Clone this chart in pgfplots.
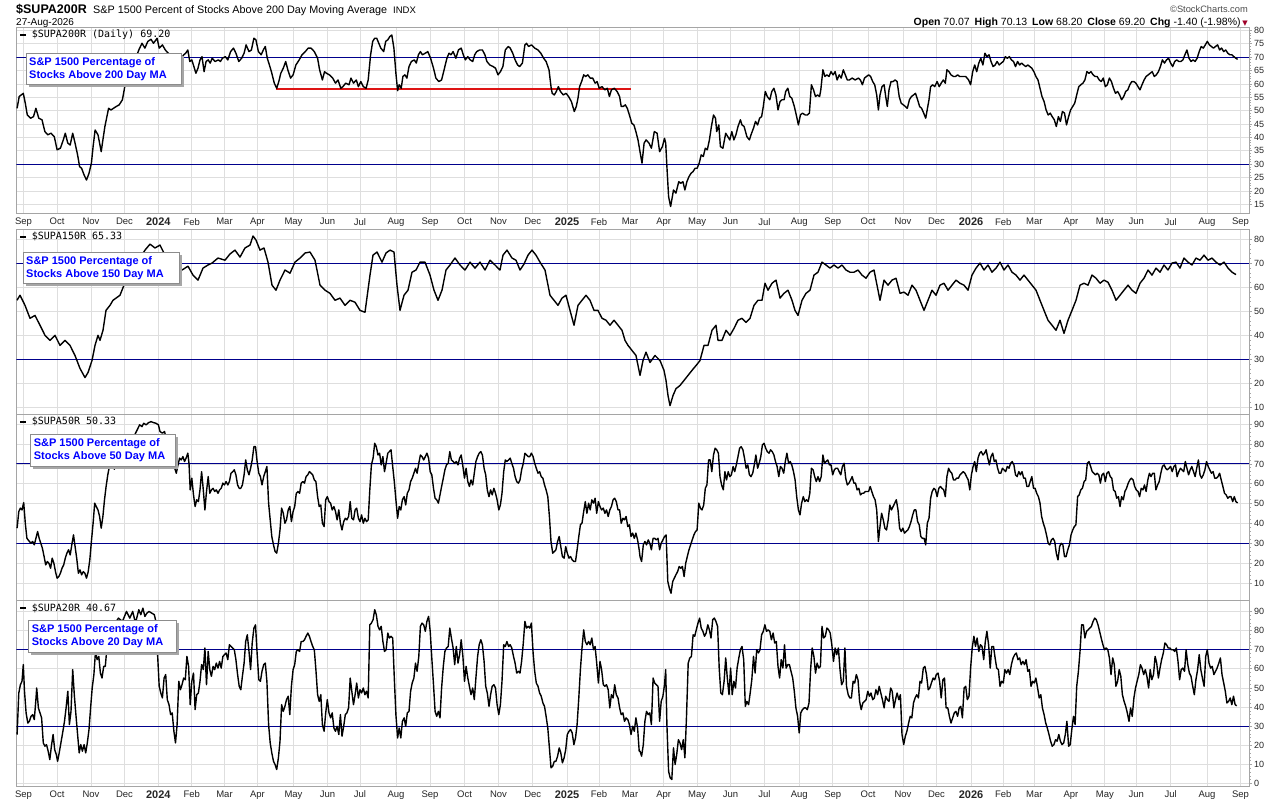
\documentclass[border=0pt]{standalone}
\usepackage{pgfplots}
\pgfplotsset{compat=1.18}
\usepackage{fontspec}
\setmainfont{Liberation Sans}
\newfontfamily\monofont{DejaVu Sans Mono}
\newfontfamily\dejavu{DejaVu Sans}
\definecolor{navyl}{RGB}{0,0,140}
\definecolor{sblue}{RGB}{0,0,255}
\definecolor{redl}{RGB}{222,20,20}
\definecolor{framec}{RGB}{165,165,165}
\definecolor{gridc}{RGB}{222,222,222}
\definecolor{chgred}{RGB}{160,0,40}
\pgfplotsset{
  stc/.style={
    scale only axis, width=1232.7pt, anchor=north west,
    xmin=16.3, xmax=1249,
    axis line style={draw=framec, line width=0.9pt},
    grid=major, major grid style={draw=gridc, line width=0.8pt},
    xtick={23.5,57,91,124.5,158.3,191.8,224.5,257.5,293.5,327.5,360,396,430,464.5,498.5,532.7,567,599,630,663.7,697.1,730.6,764.5,799.2,832.8,868,903,936.5,971,1003.3,1034.3,1071,1104.8,1136.3,1170.6,1207,1240.5},
    tick align=outside, ytick pos=right, xtick pos=bottom,
    x tick style={draw=none},
    y tick style={draw=framec, line width=0.8pt},
    major tick length=3pt, minor tick length=1.5pt,
    minor y tick num=4,
    yticklabel style={font=\fontsize{9}{10}\selectfont, text=black!85, inner sep=2pt},
    xticklabel style={font=\fontsize{9.5}{10}\selectfont, text=black!85, inner sep=1.5pt},
    /pgf/number format/assume math mode=true,
    clip=true,
  },
  nolabels/.style={xticklabels={}, xticklabel style={text opacity=0}},
  monthlabels/.style={xticklabels={Sep,Oct,Nov,Dec,{\bfseries\fontsize{11}{12}\selectfont 2024},Feb,Mar,Apr,May,Jun,Jul,Aug,Sep,Oct,Nov,Dec,{\bfseries\fontsize{11}{12}\selectfont 2025},Feb,Mar,Apr,May,Jun,Jul,Aug,Sep,Oct,Nov,Dec,{\bfseries\fontsize{11}{12}\selectfont 2026},Feb,Mar,Apr,May,Jun,Jul,Aug,Sep}},
  ser/.style={black, line width=1.4pt, line join=round, mark=none},
  refl/.style={navyl, line width=1pt, mark=none},
}
\begin{document}
\begin{tikzpicture}
\useasboundingbox (0,0) rectangle (1280pt,-800pt);
\fill[white] (0,0) rectangle (1280pt,-800pt);

% ---------------- Panel 1: 200 day ----------------
\begin{axis}[stc, monthlabels, at={(16.3pt,-27.5pt)}, height=186pt, ymin=11.6, ymax=81.1, ytick={15,20,...,80}]
\addplot[refl] coordinates {(16.3,70) (1249,70)};
\addplot[refl] coordinates {(16.3,30) (1249,30)};
\addplot[redl, line width=2.2pt] coordinates {(276,58.2) (630.6,58.2)};
\addplot[ser] coordinates {
(17.1,50.9) (19.2,55.3) (21.2,55.9) (23.3,56.5) (25.3,52.8) (27.3,48.4) (30.6,47.2) (33.5,47.8) (35.9,50.9) (38.8,47.2) (42.0,46.6) (44.9,42.2) (47.8,41.0) (51.0,41.6) (54.3,40.3) (57.1,35.4) (60.4,36.0) (63.3,39.1) (65.3,41.6) (67.8,37.9) (70.2,37.2) (72.7,41.6) (74.7,38.5) (77.6,33.5) (79.6,29.1) (81.6,28.5) (84.1,26.0) (86.5,24.1) (89.0,26.6) (91.4,30.4) (93.1,36.6) (95.1,42.8) (98.0,41.0) (99.6,37.9) (101.2,34.7) (102.9,39.1) (104.9,44.1) (106.9,47.8) (108.6,50.9) (111.0,50.3) (113.5,50.9) (116.3,51.6) (119.2,52.2) (122.4,54.1) (124.5,58.4) (125.7,61.5) (129.8,64.6) (134.7,68.4) (138.8,72.7) (142.0,75.2) (144.9,73.4) (147.8,75.9) (151.0,76.7) (153.5,75.2) (157.1,77.1) (159.2,73.4) (162.4,74.6) (165.3,72.7) (168.2,71.5) (173.5,70.2) (181.6,69.6)
(183.7,70.9) (185.7,71.5) (187.8,72.7) (189.8,68.4) (191.8,69.0) (193.9,66.5) (195.9,64.0) (198.0,65.9) (200.0,69.0) (202.0,70.2) (204.1,64.6) (206.1,68.4) (208.2,69.0) (210.2,67.8) (212.2,69.6) (215.1,68.4) (218.4,69.0) (220.4,68.4) (222.4,69.6) (225.3,70.2) (227.8,69.0) (230.6,72.1) (233.5,73.4) (235.9,71.5) (238.8,68.4) (241.6,69.6) (244.1,71.5) (246.1,74.6) (249.0,72.1) (251.4,72.7) (253.9,77.1) (255.9,76.5) (258.4,72.1) (261.2,70.9) (263.3,72.7) (265.3,74.0) (267.3,69.6) (269.4,67.1) (271.4,64.6) (274.3,60.3) (276.7,58.4) (278.8,60.9) (280.8,64.0) (283.3,65.9) (285.7,68.4) (287.8,65.3) (290.6,62.2) (293.1,63.4) (295.9,67.1) (299.2,69.0) (302.0,70.9) (305.3,72.1) (308.2,73.4) (311.0,73.4) (314.3,72.1) (317.6,69.6) (319.6,65.3) (322.4,61.5) (324.5,64.6) (326.5,64.0) (329.4,63.4) (332.7,62.2) (335.5,60.3) (338.0,61.5) (340.8,58.4) (342.9,59.0) (345.7,60.3) (349.0,59.7) (351.0,62.2) (353.5,60.3) (356.3,61.5) (358.4,59.0) (360.8,60.9) (363.3,59.0) (366.1,58.4) (368.2,61.5) (370.6,70.9) (372.7,75.9) (374.7,77.1) (376.7,77.1) (378.8,75.2) (380.8,73.4) (383.7,72.1) (385.7,75.9) (387.8,76.5) (389.8,77.7) (391.8,78.3) (393.9,73.4) (395.9,64.0) (397.6,57.5) (399.2,59.7) (401.2,58.4) (402.9,62.8) (404.9,63.4) (406.9,62.2) (409.0,66.5) (411.4,68.4) (414.3,69.0) (416.3,67.8) (418.4,70.9) (420.4,72.1) (422.4,70.9) (425.3,71.5) (427.8,72.1) (430.6,69.6) (433.5,65.9) (435.9,62.2) (438.8,60.9) (441.6,61.5) (444.1,65.3) (446.9,69.6) (449.0,71.5) (451.0,70.9) (453.1,72.1) (455.9,69.6) (458.4,72.7) (461.2,73.4) (463.3,70.9) (465.3,69.0) (467.8,70.2) (470.2,69.0) (472.7,68.4) (474.7,70.9) (476.7,72.1) (479.6,72.7) (482.4,72.7) (484.9,70.9) (486.9,68.4) (489.8,67.1) (493.1,66.5) (495.5,65.9) (498.0,63.4) (500.4,64.6) (502.9,66.5) (505.3,72.7) (508.2,74.0) (510.2,73.4) (512.7,71.5) (515.1,69.0) (517.6,67.1) (519.6,66.5) (522.4,67.8) (524.9,74.6) (526.5,75.2) (528.6,74.0) (531.4,74.6) (534.7,73.4) (538.0,72.7) (540.8,71.5) (543.7,69.6) (546.1,68.4) (549.0,65.3) (551.0,59.0) (552.2,56.5) (554.3,55.9) (556.3,57.2) (558.4,59.0) (560.4,57.2) (563.3,55.9) (566.1,56.5) (568.6,55.3) (571.4,53.4) (574.3,49.7) (576.3,51.6) (578.0,54.7) (579.6,59.0) (581.6,60.9) (583.7,63.4) (585.7,62.8) (587.8,63.4) (590.2,62.2) (592.7,62.2) (595.1,60.3) (597.1,60.9) (599.2,58.4) (602.0,59.0) (604.9,57.8) (607.3,58.4) (609.4,55.3) (611.4,57.8) (614.3,58.4) (617.1,57.2) (619.6,55.3) (621.2,51.6) (623.3,51.6) (625.3,52.2) (627.3,50.9) (629.4,48.4) (631.8,45.3) (633.9,44.7) (635.9,42.2) (638.0,39.1) (640.0,34.7)
(642.0,30.4) (644.1,37.9) (646.1,39.1) (649.0,37.9) (651.4,36.0) (654.3,42.2) (657.1,41.6) (659.6,34.7) (662.4,36.6) (664.5,39.7) (665.7,37.9) (666.9,29.1) (668.6,17.9) (670.6,14.2) (671.8,16.7) (673.5,20.4) (675.9,19.2) (678.8,23.5) (680.8,22.9) (682.9,23.5) (684.9,20.4) (686.9,23.5) (689.0,25.4) (691.0,26.6) (693.1,27.3) (695.1,28.5) (697.1,28.5) (699.2,30.4) (701.2,33.5) (703.3,32.9) (705.3,36.0) (707.3,35.4) (709.4,39.1) (711.4,44.1) (713.5,48.4) (715.5,47.2) (716.7,42.2) (718.8,44.7) (720.4,36.6) (722.9,36.0) (725.7,41.6) (727.8,40.3) (729.8,39.1) (731.8,42.2) (733.9,39.1) (735.9,41.0) (738.0,44.1) (740.4,46.6) (742.0,44.7) (744.1,44.1) (746.9,40.3) (749.4,39.1) (751.0,41.0) (753.5,43.5) (755.5,46.0) (757.6,44.7) (759.6,47.2) (761.6,47.8) (763.3,51.6) (765.3,57.2) (767.3,55.3) (769.8,54.1) (771.8,57.2) (773.9,58.4) (775.9,55.9) (778.0,50.3) (780.0,53.4) (782.0,54.1) (784.1,54.1) (785.7,57.2) (787.8,58.4) (789.8,55.3) (791.8,54.7) (794.3,51.6) (796.3,48.4) (798.4,44.7) (800.4,48.4) (802.4,49.1) (805.3,48.4) (807.3,48.4) (809.4,49.1) (811.4,59.7) (813.5,57.8) (815.5,55.3) (817.6,55.9) (819.6,55.3) (820.8,57.8) (822.9,65.3) (824.9,62.8) (826.9,63.4) (829.0,62.8) (831.0,64.6) (833.1,63.4) (835.1,64.6) (837.1,61.5) (839.2,63.4) (841.2,62.2) (843.3,65.3) (845.3,63.4) (847.3,61.5) (849.4,61.5) (852.2,62.2) (855.1,61.5) (858.4,62.2) (860.4,61.5) (862.4,59.7) (864.5,62.2) (866.5,62.8) (868.6,63.4) (870.6,62.8) (872.7,60.9) (874.7,59.7) (876.7,55.9) (878.4,50.3) (880.0,55.9) (882.0,59.0) (884.1,59.7) (885.7,55.3) (887.3,51.6) (889.0,57.8) (891.0,60.9) (893.1,60.9) (895.1,61.5) (897.1,60.9) (899.2,55.3) (901.2,52.8) (903.3,52.2) (905.3,51.6) (907.3,50.9) (909.4,54.1) (911.4,55.3) (913.5,55.9) (915.5,56.5) (917.6,54.1) (919.6,51.6) (921.6,50.9) (923.7,49.1) (925.7,47.2) (927.8,51.6) (929.0,54.1) (930.6,59.0) (932.7,59.7) (934.7,59.0) (937.1,60.9) (939.2,59.0) (941.2,60.3) (943.3,61.5) (945.3,60.3) (946.9,65.3) (949.0,64.6) (951.0,63.4) (953.5,62.8) (955.5,62.8) (957.6,63.4) (959.6,62.8) (962.4,62.8) (965.7,62.8) (968.6,61.5) (970.6,59.7) (972.7,64.6) (974.7,67.1) (976.7,64.6) (978.8,67.8) (980.8,69.6) (982.9,67.1) (984.9,71.5) (986.9,70.2) (989.0,70.9) (991.0,68.4) (993.1,66.5) (995.1,67.1) (997.1,68.4) (999.2,67.1) (1001.2,67.8) (1003.3,68.4) (1005.3,70.2) (1007.3,69.6) (1009.4,70.2) (1011.4,69.0) (1013.5,68.4) (1015.5,66.5) (1017.6,68.4) (1019.6,67.1) (1021.6,67.8) (1023.7,67.1) (1025.7,66.5) (1027.8,67.1) (1029.8,66.5) (1031.8,65.9) (1033.9,64.6) (1035.9,62.8) (1038.0,61.5) (1040.0,58.4) (1042.0,55.3) (1044.1,53.4) (1046.1,50.3) (1048.2,48.4) (1050.2,49.1) (1052.2,47.8) (1054.3,46.6) (1056.3,44.1) (1058.4,47.8) (1060.4,46.0) (1062.4,49.7) (1064.5,49.1) (1066.5,44.7) (1068.6,47.8) (1070.6,50.3) (1072.7,51.6) (1074.7,52.8) (1076.7,55.9) (1078.8,59.0) (1080.8,59.7) (1082.9,60.3) (1084.9,61.5) (1086.9,64.6) (1089.0,64.0) (1091.0,64.6) (1093.1,63.4) (1095.1,62.8) (1097.1,62.8) (1099.2,61.5) (1101.2,60.9) (1103.3,62.2) (1105.3,59.0) (1107.3,59.7) (1109.4,62.2) (1111.4,60.9) (1113.5,58.4) (1115.5,56.5) (1117.6,57.2) (1119.6,55.9) (1121.6,54.1) (1123.7,55.3) (1125.7,57.2) (1127.8,57.8) (1129.8,59.7) (1131.8,60.9) (1133.9,60.9) (1135.9,60.3) (1138.0,59.0) (1140.0,57.8) (1142.0,59.7) (1144.1,61.5) (1146.1,62.8) (1148.2,63.4) (1150.2,64.0) (1152.2,64.6) (1154.3,62.8) (1156.3,63.4) (1158.4,64.6) (1160.4,66.5) (1162.4,69.0) (1164.5,67.8) (1166.5,69.0) (1168.6,69.6) (1170.6,67.8) (1172.7,66.5) (1174.7,68.4) (1176.7,69.0) (1178.8,68.4) (1180.8,68.4) (1182.9,69.0) (1184.9,70.9) (1186.9,72.7) (1189.0,69.6) (1191.0,68.4) (1193.1,69.0) (1195.1,68.4) (1197.1,69.6) (1199.2,72.1) (1201.2,74.0) (1203.3,73.4) (1205.3,74.6) (1207.3,75.9) (1209.4,74.6) (1211.4,74.0) (1213.5,73.4) (1215.5,74.0) (1217.6,74.6) (1219.6,72.7) (1221.6,73.4) (1223.7,72.1) (1225.7,72.7) (1227.8,71.5) (1229.8,70.9) (1231.8,70.9) (1233.9,70.2) (1235.9,69.6) (1237.6,69.2)
};
\end{axis}

% ---------------- Panel 2: 150 day ----------------
\begin{axis}[stc, nolabels, at={(16.3pt,-229pt)}, height=185.3pt, ymin=7.1, ymax=84.3, ytick={10,20,...,80}]
\addplot[refl] coordinates {(16.3,70) (1249,70)};
\addplot[refl] coordinates {(16.3,30) (1249,30)};
\addplot[ser] coordinates {
(17,54.6) (20,56.7) (25,52.5) (30,47.1) (35,48.3) (40,44.2) (45,40.0) (50,37.9) (55,40.0) (60,35.8) (65,37.9) (70,35.8) (75,31.6) (80,26.2) (85,22.4) (88,24.5) (92,29.5) (95,35.8) (98,40.0) (100,37.9) (103,42.1) (106,50.4) (110,52.5) (113,54.6) (116,55.5) (120,56.7) (124,60.9) (127,67.2) (130,69.3) (135,70.5) (140,72.2) (145,75.5) (150,78.0) (155,76.4) (160,77.6) (165,73.4) (170,70.5) (175,69.3) (182,67.2) (188,68.8) (193,65.1) (198,63.0) (203,68.0) (208,69.3) (212,70.1) (218,72.2) (225,71.3) (230,73.9) (235,75.5) (240,72.6) (245,76.4) (250,77.6) (253,81.4) (256,79.7) (260,75.5) (264,76.4) (268,70.5) (272,60.9) (276,58.8) (280,63.0) (285,67.2) (290,65.9) (295,70.5) (300,72.2) (305,74.3) (310,74.7) (315,71.3) (320,60.9) (325,58.8) (330,57.5) (335,54.6) (340,55.5) (345,52.5) (350,54.6) (355,53.8) (360,50.4) (365,49.6) (370,65.1) (373,73.4) (377,74.7) (382,70.5) (386,74.3) (390,75.5) (394,74.7) (397,60.9) (400,50.4) (404,56.7) (408,58.8) (412,66.3) (416,67.2) (420,70.5) (425,70.5) (430,65.1) (434,58.8) (438,54.6) (442,58.8) (446,67.2) (450,69.3) (455,72.2) (460,69.3) (465,67.2) (470,70.5) (475,68.0) (480,70.5) (485,67.2) (490,71.3) (495,69.3) (500,67.2) (503,73.4) (507,75.5) (512,72.2) (516,71.3) (520,67.2) (524,69.7) (528,73.4) (532,75.5) (536,73.4) (540,70.5) (545,67.2) (548,60.9) (550,56.7) (554,54.6) (558,52.5) (562,55.5) (566,56.7) (570,50.4) (574,44.2) (578,52.5) (582,54.6) (586,56.7) (590,54.6) (594,50.4) (598,50.4) (602,47.1) (606,46.3) (610,44.2) (614,46.3) (618,44.2) (622,42.1) (625,37.9) (628,35.8) (632,33.7) (636,31.6) (640,23.3) (643,29.5) (646,33.0) (650,28.7) (655,31.6) (660,29.5) (664,25.4) (666,21.2) (668,14.9) (670,10.7) (673,14.9) (676,17.8) (680,19.1) (684,21.2) (688,23.3) (692,25.4) (696,27.4) (700,29.5) (704,35.8) (708,35.8) (712,42.1) (716,44.2) (718,37.9) (722,37.9) (726,42.1) (730,40.0) (734,42.9) (738,46.3) (742,47.1) (746,45.4) (750,47.1) (754,52.5) (758,54.6) (762,54.6) (765,61.7) (768,58.8) (772,61.7) (776,63.0) (780,55.5) (784,57.5) (788,58.8) (792,54.6) (795,50.4) (798,48.3) (802,54.6) (806,57.5) (810,58.8) (814,65.1) (818,66.3) (822,70.5) (826,69.3) (830,68.0) (834,69.3) (838,68.0) (842,69.3) (846,67.2) (850,66.3) (854,66.3) (858,67.2) (862,65.1) (866,63.8) (870,66.3) (874,67.2) (878,58.8) (880,54.6) (884,63.0) (888,60.9) (892,63.0) (896,63.8) (900,57.5) (904,58.0) (908,56.7) (912,60.9) (916,58.8) (920,54.6) (924,50.4) (928,54.6) (932,58.8) (936,56.7) (940,60.9) (944,61.7) (948,58.8) (952,60.9) (956,63.0) (960,61.7) (964,60.9) (968,58.8) (972,65.1) (976,68.0) (980,70.1) (984,67.2) (988,69.3) (992,66.3) (996,68.0) (1000,70.5) (1004,67.2) (1008,69.3) (1012,66.3) (1016,65.1) (1020,63.0) (1024,65.1) (1028,63.0) (1032,60.9) (1036,58.8) (1040,54.6) (1044,50.4) (1048,46.3) (1052,44.2) (1056,42.1) (1060,46.3) (1064,40.8) (1068,46.3) (1072,50.4) (1076,54.6) (1080,60.9) (1084,61.7) (1088,60.9) (1092,65.1) (1096,63.8) (1100,61.7) (1104,63.0) (1108,62.1) (1112,58.8) (1116,54.6) (1120,56.7) (1124,58.8) (1128,60.9) (1132,58.8) (1136,57.5) (1140,61.7) (1144,63.8) (1148,67.2) (1152,65.1) (1156,68.0) (1160,66.3) (1164,69.3) (1168,67.2) (1172,70.1) (1176,70.5) (1180,68.0) (1184,72.2) (1188,70.5) (1192,69.3) (1196,72.2) (1200,71.3) (1204,73.4) (1208,71.3) (1212,72.2) (1216,70.5) (1220,69.3) (1224,70.5) (1228,68.0) (1232,66.3) (1236,65.3)
};
\end{axis}

% ---------------- Panel 3: 50 day ----------------
\begin{axis}[stc, nolabels, at={(16.3pt,-414.3pt)}, height=185.7pt, ymin=1.4, ymax=95.0, ytick={10,20,...,90}]
\addplot[refl] coordinates {(16.3,70) (1249,70)};
\addplot[refl] coordinates {(16.3,30) (1249,30)};
\addplot[ser] coordinates {
(17.1,37.6) (18.8,46.0) (20.4,47.7) (22.0,46.8) (23.7,50.5) (25.3,40.1) (26.9,32.5) (29.4,30.9) (31.0,30.0) (32.7,30.9) (34.3,29.2) (35.9,32.5) (37.6,35.9) (39.2,32.5) (40.8,30.0) (42.4,27.5) (44.1,23.3) (45.7,19.1) (47.3,20.8) (49.0,19.9) (50.6,17.4) (52.2,22.5) (53.9,19.9) (55.5,15.7) (57.1,12.4) (58.8,13.2) (60.4,14.9) (62.0,17.4) (63.7,19.1) (65.3,22.5) (66.9,25.0) (68.6,26.7) (70.2,24.1) (71.8,29.2) (73.5,34.2) (75.1,28.3) (76.7,22.5) (78.4,14.9) (80.0,16.6) (81.6,14.1) (83.3,15.7) (84.9,14.9) (86.5,12.4) (88.2,15.7) (89.8,21.6) (91.4,30.9) (93.1,40.1) (94.7,50.2) (96.3,48.5) (98.0,46.8) (99.6,43.5) (101.2,37.6) (102.9,43.5) (104.5,51.9) (106.1,58.6) (107.8,64.5) (109.4,68.7) (111.0,67.8) (112.7,70.3) (114.3,67.3) (115.9,70.3) (118.4,72.0) (122.4,75.4) (126.5,78.7) (130.6,82.1) (134.7,84.6) (138.0,88.0) (139.6,89.7) (142.0,88.8) (143.7,90.5) (146.1,89.7) (148.6,90.8) (151.0,91.3) (153.5,90.8) (155.9,90.5) (158.4,89.7) (160.0,86.3) (162.4,85.5) (164.5,86.3) (169.4,77.1) (174.7,67.8) (176.3,65.3) (178.0,69.5) (179.6,72.9) (181.2,72.0) (182.9,73.7) (184.5,71.2) (186.1,72.9) (187.8,75.4) (189.0,70.3) (190.2,56.9) (191.8,62.8) (193.5,54.4) (195.1,48.5) (196.7,51.9) (198.4,51.0) (200.0,56.9) (201.6,66.1) (203.3,56.9) (204.9,46.8) (206.5,56.1) (208.2,63.6) (209.8,55.2) (211.4,56.9) (213.1,57.7) (214.7,56.1) (216.3,56.9) (218.0,55.2) (219.6,56.9) (221.2,57.7) (222.9,60.3) (224.5,59.4) (226.1,61.1) (227.8,59.4) (229.4,61.1) (231.0,65.3) (232.7,66.1) (234.3,67.0) (235.9,64.5) (237.6,59.4) (239.2,57.7) (240.8,57.7) (242.4,59.4) (244.1,64.5) (245.7,72.0) (247.3,67.0) (249.0,64.5) (250.6,67.8) (252.2,72.0) (253.9,78.7) (255.5,78.7) (257.1,71.2) (258.8,65.3) (260.4,63.6) (262.0,59.4) (263.7,63.6) (265.3,66.1) (266.9,68.7) (268.6,50.2) (270.2,41.8) (271.8,33.4) (273.5,29.2) (275.1,25.8) (276.7,25.0) (278.4,30.0) (280.0,36.7) (281.6,47.7) (283.3,45.1) (284.9,40.1) (286.5,41.8) (288.2,46.8) (289.8,48.5) (291.4,40.9) (293.1,46.0) (294.7,48.5) (296.3,55.2) (298.0,56.1) (299.6,55.2) (301.2,60.3) (302.9,61.1) (304.5,60.3) (306.1,63.6) (307.8,64.5) (309.4,66.1) (311.0,65.3) (312.7,64.5) (314.3,61.9) (315.9,61.1) (317.6,53.5) (319.2,48.5) (320.8,49.3) (322.4,40.1) (324.1,38.4) (325.7,51.9) (327.3,53.5) (329.0,51.0) (330.6,50.2) (332.2,46.8) (333.9,48.5) (335.5,46.0) (337.1,41.8) (338.8,46.8) (340.4,40.1) (342.0,36.7) (343.7,40.9) (345.3,42.6) (346.9,41.8) (348.6,43.5) (350.2,51.0) (351.8,42.6) (353.5,41.8) (355.1,46.8) (356.7,47.7) (358.4,42.6) (360.0,40.9) (361.6,44.3) (363.3,40.1) (364.9,42.6) (366.5,40.9) (368.2,41.8) (369.8,56.9) (371.4,69.5) (373.1,72.9) (374.7,80.4) (376.3,78.7) (378.0,74.5) (379.6,75.4) (381.2,69.5) (382.9,73.7) (384.5,66.1) (386.1,70.3) (387.8,75.4) (389.4,76.2) (391.0,77.1) (392.7,68.7) (394.3,61.1) (395.9,51.9) (397.6,42.6) (399.2,48.5) (400.8,46.8) (402.4,51.9) (404.1,53.5) (405.7,49.3) (407.3,55.2) (409.0,56.9) (410.6,61.1) (412.2,62.8) (413.9,65.3) (415.5,67.8) (417.1,65.3) (418.8,70.3) (420.4,74.5) (422.0,73.7) (423.7,72.0) (425.3,73.7) (426.9,75.4) (428.6,72.9) (430.2,66.1) (431.8,64.5) (433.5,57.7) (435.1,52.7) (436.7,51.9) (438.4,50.2) (440.0,54.4) (441.6,58.6) (443.3,62.8) (444.9,67.0) (446.5,69.5) (448.2,70.3) (449.8,76.2) (451.4,72.0) (453.1,71.2) (454.7,70.3) (456.3,71.2) (458.0,69.5) (459.6,72.9) (461.2,74.5) (462.9,68.7) (464.5,62.8) (466.1,67.8) (467.8,61.1) (469.4,58.6) (471.0,61.9) (472.7,59.4) (474.3,65.3) (475.9,71.2) (477.6,73.7) (479.2,75.4) (480.8,76.2) (482.4,74.5) (484.1,67.8) (485.7,64.5) (487.3,56.9) (489.0,53.5) (490.6,56.9) (492.2,54.4) (493.9,57.7) (495.5,55.2) (497.1,51.9) (498.8,46.8) (500.4,49.3) (502.0,55.2) (503.7,66.1) (505.3,72.0) (506.9,71.2) (508.6,72.0) (510.2,72.9) (511.8,70.3) (513.5,67.8) (515.1,63.6) (516.7,61.1) (518.4,60.3) (520.0,61.9) (521.6,67.0) (523.3,70.3) (524.9,75.4) (526.5,74.5) (528.2,73.7) (529.8,73.7) (531.4,75.4) (533.1,73.7) (534.7,70.3) (536.3,67.8) (538.0,65.3) (539.6,66.1) (541.2,63.6) (542.9,62.8) (544.5,59.4) (546.1,56.9) (547.8,53.5) (549.4,43.5) (551.0,30.9) (552.7,25.0) (554.3,25.8) (555.9,26.7) (557.6,30.9) (559.2,33.4) (560.8,28.3) (562.4,23.3) (564.1,22.5) (565.7,28.3) (567.3,25.0) (569.0,22.5) (570.6,23.3) (572.2,21.6) (573.9,20.8) (575.5,20.8) (577.1,26.7) (578.8,33.4) (580.4,39.3) (582.0,40.1) (583.7,46.0) (585.3,51.0) (586.9,45.1) (588.6,50.2) (590.2,46.8) (591.8,51.9) (593.5,50.2) (595.1,52.7) (596.7,45.1) (598.4,51.0) (600.0,48.5) (601.6,46.8) (603.3,47.7) (604.9,45.1) (606.5,46.8) (608.2,43.5) (609.8,46.8) (611.4,48.5) (613.1,51.9) (614.7,52.7) (616.3,51.0) (618.0,46.8) (619.6,46.8) (621.2,40.1) (622.9,42.6) (624.5,41.8) (626.1,43.5) (627.8,38.4) (629.4,39.3) (631.0,33.4) (632.7,35.1) (634.3,32.5) (635.9,35.1) (637.6,31.7) (639.2,26.7)
(640.0,23.3) (641.6,20.8) (643.3,29.2) (644.9,30.9) (646.5,29.2) (648.2,31.7) (649.8,30.0) (651.4,26.7) (653.1,32.5) (654.7,32.5) (656.3,31.7) (658.0,32.5) (659.6,26.7) (661.2,30.0) (662.9,31.7) (664.5,33.4) (666.1,34.2) (667.8,10.7) (669.4,7.3) (671.0,4.8) (672.7,10.7) (674.3,12.4) (675.9,14.1) (677.6,15.7) (679.2,18.3) (680.8,17.4) (682.4,18.3) (684.1,13.2) (685.7,19.9) (687.3,23.3) (689.0,26.7) (690.6,29.2) (692.2,31.7) (693.9,34.2) (695.5,35.9) (697.1,36.7) (698.8,50.2) (700.4,47.7) (702.0,46.8) (703.7,49.3) (705.3,57.7) (706.9,59.4) (708.6,72.0) (710.2,72.0) (711.8,66.1) (713.5,74.5) (715.1,77.9) (716.7,77.1) (718.4,75.4) (720.0,63.6) (721.6,59.4) (723.3,56.9) (724.9,66.1) (726.5,61.9) (728.2,66.1) (729.8,63.6) (731.4,64.5) (733.1,68.7) (734.7,66.1) (736.3,69.5) (738.0,73.7) (739.6,77.9) (741.2,78.7) (742.9,77.1) (744.5,72.9) (746.1,67.8) (747.8,69.5) (749.4,64.5) (751.0,63.6) (752.7,65.3) (754.3,69.5) (755.9,74.5) (757.6,67.8) (759.2,70.3) (760.8,73.7) (762.4,79.6) (764.1,80.4) (765.7,77.9) (767.3,76.2) (769.0,75.4) (770.6,77.1) (772.2,76.2) (773.9,74.5) (775.5,71.2) (777.1,68.7) (778.8,63.6) (780.4,68.7) (782.0,67.8) (783.7,65.3) (785.3,71.2) (786.9,75.4) (788.6,70.3) (790.2,71.2) (791.8,69.5) (793.5,66.1) (795.1,61.9) (796.7,53.5) (798.4,46.8) (800.0,44.3) (801.6,50.2) (803.3,53.5) (804.9,51.0) (806.5,51.9) (808.2,51.0) (809.8,55.2) (811.4,67.8) (813.1,67.0) (814.7,63.6) (816.3,61.1) (818.0,63.6) (819.6,61.1) (821.2,63.6) (822.9,74.5) (824.5,70.3) (826.1,71.2) (827.8,72.0) (829.4,69.5) (831.0,69.5) (832.7,64.5) (834.3,67.0) (835.9,67.8) (837.6,67.8) (839.2,66.1) (840.8,64.5) (842.4,68.7) (844.1,70.3) (845.7,62.8) (847.3,59.4) (849.0,60.3) (850.6,61.9) (852.2,63.6) (853.9,60.3) (855.5,60.3) (857.1,56.9) (858.8,57.7) (860.4,54.4) (862.0,55.2) (863.7,55.2) (865.3,56.1) (866.9,56.1) (868.6,56.1) (870.2,58.6) (871.8,56.1) (873.5,53.5) (875.1,51.9) (876.7,46.8) (878.4,30.9) (880.0,38.4) (881.6,45.1) (883.3,41.8) (884.9,37.6) (886.5,36.7) (888.2,41.8) (889.8,49.3) (891.4,46.8) (893.1,48.5) (894.7,50.2) (896.3,51.9) (898.0,46.8) (899.6,37.6) (901.2,35.9) (902.9,37.6) (904.5,35.1) (906.1,35.9) (907.8,36.7) (909.4,38.4) (911.0,40.9) (912.7,44.3) (914.3,46.8) (915.9,46.8) (917.6,40.9) (919.2,39.3) (920.8,33.4) (922.4,32.5) (924.1,32.5) (925.7,29.2) (927.3,40.1) (929.0,42.6) (930.6,52.7) (932.2,56.1) (933.9,57.7) (935.5,56.9) (937.1,53.5) (938.8,57.7) (940.4,58.6) (942.0,57.7) (943.7,56.9) (945.3,53.5) (946.9,63.6) (948.6,67.8) (950.2,66.1) (951.8,65.3) (953.5,61.9) (955.1,61.9) (956.7,62.8) (958.4,62.8) (960.0,64.5) (961.6,65.3) (963.3,66.1) (964.9,65.3) (966.5,63.6) (968.2,61.9) (969.8,56.9) (971.4,64.5) (973.1,68.7) (974.7,71.2) (976.3,66.1) (978.0,72.9) (979.6,75.4) (981.2,76.2) (982.9,74.5) (984.5,75.4) (986.1,77.1) (987.8,72.9) (989.4,69.5) (991.0,73.7) (992.7,75.4) (994.3,71.2) (995.9,72.0) (997.6,67.8) (999.2,65.3) (1000.8,65.3) (1002.4,67.8) (1004.1,67.0) (1005.7,66.1) (1007.3,68.7) (1009.0,67.8) (1010.6,70.3) (1012.2,71.2) (1013.9,69.5) (1015.5,64.5) (1017.1,63.6) (1018.8,66.1) (1020.4,64.5) (1022.0,66.1) (1023.7,62.8) (1025.3,62.8) (1026.9,58.6) (1028.6,58.6) (1030.2,61.1) (1031.8,63.6) (1033.5,57.7) (1035.1,57.7) (1036.7,55.2) (1038.4,53.5) (1040.0,50.2) (1041.6,43.5) (1043.3,40.1) (1044.9,37.6) (1046.5,34.2) (1048.2,30.0) (1049.8,29.2) (1051.4,31.7) (1053.1,32.5) (1054.7,30.9) (1056.3,25.0) (1058.0,21.6) (1059.6,28.3) (1061.2,30.0) (1062.9,29.2) (1064.5,23.3) (1066.1,23.3) (1067.8,26.7) (1069.4,29.2) (1071.0,34.2) (1072.7,36.7) (1074.3,38.4) (1075.9,39.3) (1077.6,53.5) (1079.2,54.4) (1080.8,56.9) (1082.4,57.7) (1084.1,61.1) (1085.7,61.9) (1087.3,70.3) (1089.0,71.2) (1090.6,68.7) (1092.2,66.1) (1093.9,65.3) (1095.5,64.5) (1097.1,65.3) (1098.8,64.5) (1100.4,60.3) (1102.0,64.5) (1103.7,65.3) (1105.3,61.1) (1106.9,65.3) (1108.6,66.1) (1110.2,63.6) (1111.8,62.8) (1113.5,56.9) (1115.1,56.1) (1116.7,52.7) (1118.4,53.5) (1120.0,48.5) (1121.6,53.5) (1123.3,51.9) (1124.9,56.1) (1126.5,57.7) (1128.2,60.3) (1129.8,61.9) (1131.4,62.8) (1133.1,61.9) (1134.7,58.6) (1136.3,56.9) (1138.0,56.1) (1139.6,53.5) (1141.2,57.7) (1142.9,56.9) (1144.5,59.4) (1146.1,56.1) (1147.8,61.9) (1149.4,65.3) (1151.0,63.6) (1152.7,65.3) (1154.3,65.3) (1155.9,56.9) (1157.6,59.4) (1159.2,61.1) (1160.8,65.3) (1162.4,68.7) (1164.1,69.5) (1165.7,67.8) (1167.3,67.0) (1169.0,67.8) (1170.6,68.7) (1172.2,66.1) (1173.9,68.7) (1175.5,69.5) (1177.1,63.6) (1178.8,66.1) (1180.4,67.8) (1182.0,67.0) (1183.7,66.1) (1185.3,71.2) (1186.9,67.8) (1188.6,64.5) (1190.2,67.0) (1191.8,68.7) (1193.5,66.1) (1195.1,63.6) (1196.7,67.8) (1198.4,72.0) (1200.0,64.5) (1201.6,62.8) (1203.3,64.5) (1204.9,67.0) (1206.5,71.2) (1208.2,68.7) (1209.8,67.0) (1211.4,65.3) (1213.1,66.1) (1214.7,62.8) (1216.3,62.8) (1218.0,63.6) (1219.6,65.3) (1221.2,61.9) (1222.9,58.6) (1224.5,55.2) (1226.1,54.4) (1227.8,52.7) (1229.4,53.5) (1231.0,53.5) (1232.7,51.0) (1234.3,53.5) (1235.9,51.0) (1237.6,50.3)
};
\end{axis}

% ---------------- Panel 4: 20 day ----------------
\begin{axis}[stc, monthlabels, at={(16.3pt,-600.7pt)}, height=185.3pt, ymin=-1.2, ymax=95.6, ytick={0,10,...,90}]
\addplot[refl] coordinates {(16.3,70) (1249,70)};
\addplot[refl] coordinates {(16.3,30) (1249,30)};
\addplot[ser] coordinates {
(17.1,25.7) (18.8,47.4) (20.4,51.7) (22.0,53.5) (23.3,62.2) (24.5,48.3) (26.1,37.0) (27.8,31.7) (29.4,32.6) (31.0,35.2) (32.7,36.1) (34.3,33.5) (35.9,43.9) (36.7,50.0) (38.4,39.6) (40.0,37.0) (41.6,34.4) (43.3,21.3) (44.9,19.6) (46.5,20.4) (48.2,17.0) (49.8,12.6) (51.4,19.6) (53.1,25.7) (54.7,17.8) (56.3,15.2) (57.6,11.7) (59.2,16.1) (61.2,22.2) (62.9,27.4) (64.5,32.6) (66.1,39.6) (67.8,48.3) (69.4,30.9) (71.0,37.8) (72.7,59.6) (74.3,46.5) (75.9,36.1) (77.6,25.7) (79.2,16.1) (80.8,20.4) (82.4,17.0) (84.1,20.4) (85.7,16.1) (87.3,21.3) (89.0,28.3) (90.6,39.6) (92.2,50.0) (93.9,57.0) (95.5,69.1) (97.1,64.8) (98.8,66.5) (100.4,57.8) (102.0,55.2) (103.7,61.3) (105.3,61.3) (106.9,70.9) (110.2,77.8) (114.3,83.0) (118.4,86.5) (122.4,84.8) (124.5,87.4) (126.5,90.0) (129.8,86.5) (132.7,90.0) (135.5,83.9) (138.8,90.9) (140.8,88.3) (142.9,91.7) (144.9,87.4) (146.9,89.1) (149.0,90.0) (151.8,89.1) (154.3,88.3) (155.9,84.8) (157.6,67.4) (159.2,50.9) (160.8,47.4) (162.4,44.8) (164.1,55.2) (165.7,57.0) (167.3,43.9) (169.0,41.3) (170.6,36.1) (172.2,37.0) (173.9,27.4) (175.5,21.3) (177.1,30.9) (178.8,53.5) (180.4,49.1) (182.0,51.7) (183.7,55.2) (185.3,54.3) (186.9,66.5) (188.6,61.3) (190.2,41.3) (191.8,53.5) (193.5,57.8) (195.1,38.7) (196.7,46.5) (198.4,47.4) (200.0,53.5) (201.6,62.2) (203.3,59.6) (204.9,70.9) (206.5,51.7) (208.2,69.1) (209.8,59.6) (211.4,56.1) (213.1,61.3) (214.7,59.6) (216.3,63.0) (218.0,60.4) (219.6,63.9) (221.2,60.4) (222.9,66.5) (224.5,67.4) (226.1,68.3) (227.8,64.8) (229.4,72.6) (231.0,71.7) (232.7,70.9) (234.3,70.0) (235.9,64.8) (237.6,57.0) (239.2,50.9) (240.8,49.1) (242.4,56.1) (244.1,63.0) (245.7,74.3) (247.3,77.8) (249.0,69.1) (250.6,59.6) (252.2,73.5) (253.9,81.3) (255.5,83.0) (257.1,68.3) (258.8,54.3) (260.4,53.5) (262.0,58.7) (263.7,62.2) (265.3,63.0) (266.9,53.5) (268.6,30.9) (270.2,21.3) (271.8,16.1) (273.5,11.7) (275.1,10.0) (276.7,7.4) (278.4,13.5) (280.0,22.2) (281.6,41.3) (283.3,37.8) (284.9,40.4) (286.5,43.9) (288.2,45.7) (289.8,36.1) (291.4,50.9) (293.1,59.6) (294.7,62.2) (296.3,69.1) (298.0,70.0) (299.6,69.1) (301.2,74.3) (302.9,74.3) (304.5,75.2) (306.1,77.0) (307.8,78.7) (309.4,77.0) (311.0,74.3) (312.7,71.7) (314.3,70.0) (315.9,59.6) (317.6,46.5) (319.2,43.0) (320.8,46.5) (322.4,30.9) (324.1,27.4) (325.7,37.0) (327.3,43.9) (329.0,37.0) (330.6,34.4) (332.2,37.0) (333.9,29.1) (335.5,27.4) (337.1,30.0) (338.8,25.7) (340.4,36.1) (342.0,24.8) (343.7,30.0) (345.3,36.1) (346.9,37.0) (348.6,39.6) (350.2,55.2) (351.8,48.3) (353.5,41.3) (355.1,46.5) (356.7,52.6) (358.4,44.8) (360.0,49.1) (361.6,47.4) (363.3,50.0) (364.9,46.5) (366.5,48.3) (368.2,44.8) (369.8,83.0) (371.4,83.9) (373.1,85.7) (374.7,90.9) (376.3,88.3) (378.0,82.2) (379.6,80.4) (381.2,82.2) (382.9,74.3) (384.5,69.1) (386.1,70.0) (387.8,78.7) (389.4,76.1) (391.0,77.0) (392.7,76.1) (394.3,55.2) (395.9,36.1) (397.6,23.9) (399.2,29.1) (400.8,23.9) (402.4,32.6) (404.1,34.4) (405.7,30.0) (407.3,37.0) (409.0,37.8) (410.6,48.3) (412.2,52.6) (413.9,55.2) (415.5,63.0) (417.1,58.7) (418.8,66.5) (420.4,82.2) (422.0,83.9) (423.7,83.0) (425.3,79.6) (426.9,84.8) (428.6,87.4) (430.2,79.6) (431.8,65.7) (433.5,51.7) (435.1,37.8) (436.7,35.2) (438.4,37.8) (440.0,34.4) (441.6,50.0) (443.3,61.3) (444.9,69.1) (446.5,70.9) (448.2,71.7) (449.8,81.3) (451.4,76.1) (453.1,70.9) (454.7,62.2) (456.3,71.7) (458.0,63.0) (459.6,67.4) (461.2,75.2) (462.9,66.5) (464.5,53.5) (466.1,61.3) (467.8,55.2) (469.4,50.9) (471.0,46.5) (472.7,50.0) (474.3,43.9) (475.9,55.2) (477.6,66.5) (479.2,72.6) (480.8,75.2) (482.4,72.6) (484.1,63.9) (485.7,50.9) (487.3,47.4) (489.0,40.4) (490.6,46.5) (492.2,50.9) (493.9,51.7) (495.5,50.0) (497.1,41.3) (498.8,36.1) (500.4,41.3) (502.0,53.5) (503.7,72.6) (505.3,71.7) (506.9,74.3) (508.6,71.7) (510.2,72.6) (511.8,70.9) (513.5,66.5) (515.1,63.0) (516.7,57.8) (518.4,58.7) (520.0,57.8) (521.6,63.9) (523.3,73.5) (524.9,84.8) (526.5,81.3) (528.2,82.2) (529.8,81.3) (531.4,83.9) (533.1,68.3) (534.7,58.7) (536.3,52.6) (538.0,50.9) (539.6,47.4) (541.2,45.7) (542.9,42.2) (544.5,40.4) (546.1,35.2) (547.8,29.1) (549.4,18.7) (551.0,8.3) (552.7,9.1) (554.3,11.7) (555.9,11.7) (557.6,14.4) (559.2,18.7) (560.8,16.1) (562.4,10.9) (564.1,13.5) (565.7,17.8) (567.3,25.7) (569.0,27.4) (570.6,28.3) (572.2,26.5) (573.9,20.4) (575.5,23.9) (577.1,30.9) (578.8,44.8) (580.4,59.6) (582.0,70.9) (583.7,80.4) (585.3,74.3) (586.9,72.6) (588.6,74.3) (590.2,72.6) (591.8,76.1) (593.5,70.0) (595.1,71.7) (596.7,63.0) (598.4,52.6) (600.0,63.9) (601.6,59.6) (603.3,51.7) (604.9,50.9) (606.5,51.7) (608.2,49.1) (609.8,39.6) (611.4,46.5) (613.1,44.8) (614.7,51.7) (616.3,46.5) (618.0,44.8) (619.6,39.6) (621.2,36.1) (622.9,37.0) (624.5,32.6) (626.1,34.4) (627.8,33.5) (629.4,30.9) (631.0,25.7) (632.7,30.0) (634.3,27.4) (635.9,34.4) (637.6,29.1) (639.2,17.0)
(640.0,17.0) (641.6,14.4) (643.3,20.4) (644.9,32.6) (646.5,37.8) (648.2,36.1) (649.8,37.0) (651.4,30.9) (653.1,55.2) (654.7,52.6) (656.3,51.7) (658.0,50.9) (659.6,32.6) (661.2,43.0) (662.9,45.7) (664.5,51.7) (665.7,59.6) (666.9,30.9) (668.6,6.5) (670.2,3.0) (671.8,2.2) (673.5,18.7) (675.1,10.0) (676.7,15.2) (678.4,23.0) (680.0,21.3) (681.6,17.8) (683.3,23.0) (684.9,13.5) (686.5,35.2) (688.2,63.0) (689.8,65.7) (691.4,66.5) (693.1,77.8) (694.7,77.0) (696.3,80.4) (698.0,83.9) (699.6,86.5) (701.2,81.3) (702.9,79.6) (704.5,77.0) (706.1,78.7) (707.8,83.0) (709.4,80.4) (711.0,76.1) (712.7,85.7) (714.3,86.5) (715.9,84.8) (717.6,82.2) (719.2,60.4) (720.8,47.4) (722.4,46.5) (724.1,53.5) (725.7,65.7) (727.3,55.2) (729.0,46.5) (730.6,60.4) (732.2,46.5) (733.9,53.5) (735.5,50.0) (737.1,60.4) (738.8,65.7) (740.4,70.0) (742.0,71.7) (743.7,64.8) (745.3,40.4) (746.9,43.0) (748.6,41.3) (750.2,47.4) (751.8,54.3) (753.5,66.5) (755.1,57.8) (756.7,70.0) (758.4,68.3) (760.0,70.0) (761.6,77.8) (763.3,79.6) (764.9,83.0) (766.5,79.6) (768.2,80.4) (769.8,79.6) (771.4,75.2) (773.1,78.7) (774.7,73.5) (776.3,74.3) (778.0,61.3) (779.6,55.2) (781.2,64.8) (782.9,60.4) (784.5,72.6) (786.1,60.4) (787.8,62.2) (789.4,62.2) (791.0,58.7) (792.7,55.2) (794.3,48.3) (795.9,39.6) (797.6,35.2) (799.2,26.5) (800.8,37.0) (802.4,38.7) (804.1,39.6) (805.7,39.6) (807.3,38.7) (809.0,42.2) (810.6,59.6) (812.2,70.9) (813.9,66.5) (815.5,57.8) (817.1,63.0) (818.8,60.4) (820.4,61.3) (822.0,82.2) (823.7,76.1) (825.3,77.0) (826.9,81.3) (828.6,80.4) (830.2,78.7) (831.8,72.6) (833.5,63.9) (835.1,70.9) (836.7,67.4) (838.4,70.9) (840.0,59.6) (841.6,51.7) (843.3,53.5) (844.9,70.9) (846.5,50.9) (848.2,46.5) (849.8,44.8) (851.4,44.8) (853.1,53.5) (854.7,52.6) (856.3,57.0) (858.0,54.3) (859.6,43.0) (861.2,38.7) (862.9,42.2) (864.5,43.0) (866.1,43.9) (867.8,48.3) (869.4,45.7) (871.0,47.4) (872.7,43.9) (874.3,44.8) (875.9,49.1) (877.6,46.5) (879.2,50.9) (880.8,47.4) (882.4,43.9) (884.1,39.6) (885.7,45.7) (887.3,43.9) (889.0,43.0) (890.6,50.0) (892.2,48.3) (893.9,39.6) (895.5,43.9) (897.1,47.4) (898.8,43.9) (900.4,46.5) (902.0,25.7) (903.7,20.4) (905.3,24.8) (906.9,27.4) (908.6,31.7) (910.2,35.2) (911.8,34.4) (913.5,42.2) (915.1,44.8) (916.7,46.5) (918.4,44.8) (920.0,53.5) (921.6,52.6) (923.3,60.4) (924.9,61.3) (926.5,57.0) (928.2,49.1) (929.8,50.0) (931.4,52.6) (933.1,55.2) (934.7,54.3) (936.3,57.0) (938.0,57.8) (939.6,53.5) (941.2,44.8) (942.9,54.3) (944.5,55.2) (946.1,39.6) (947.8,39.6) (949.4,35.2) (951.0,31.7) (952.7,34.4) (954.3,37.0) (955.9,37.8) (957.6,35.2) (959.2,39.6) (960.8,40.4) (962.4,34.4) (964.1,50.0) (965.7,50.9) (967.3,43.9) (969.0,45.7) (970.6,60.4) (972.2,70.9) (973.9,77.0) (975.5,71.7) (977.1,76.1) (978.8,69.1) (980.4,72.6) (982.0,71.7) (983.7,64.8) (985.3,74.3) (986.9,79.6) (988.6,72.6) (990.2,60.4) (991.8,71.7) (993.5,71.7) (995.1,65.7) (996.7,60.4) (998.4,59.6) (1000.0,50.9) (1001.6,53.5) (1003.3,52.6) (1004.9,59.6) (1006.5,57.8) (1008.2,59.6) (1009.8,57.0) (1011.4,62.2) (1013.1,65.7) (1014.7,67.4) (1016.3,68.3) (1018.0,64.8) (1019.6,65.7) (1021.2,62.2) (1022.9,63.9) (1024.5,62.2) (1026.1,64.8) (1027.8,58.7) (1029.4,59.6) (1031.0,50.9) (1032.7,53.5) (1034.3,52.6) (1035.9,55.2) (1037.6,50.0) (1039.2,44.8) (1040.8,46.5) (1042.4,39.6) (1044.1,36.1) (1045.7,31.7) (1047.3,29.1) (1049.0,25.7) (1050.6,22.2) (1052.2,19.6) (1053.9,20.4) (1055.5,23.0) (1057.1,22.2) (1058.8,25.7) (1060.4,22.2) (1062.0,20.4) (1063.7,21.3) (1065.3,25.7) (1066.9,32.6) (1068.6,19.6) (1070.2,20.4) (1071.8,28.3) (1073.5,35.2) (1075.1,30.9) (1076.7,50.9) (1078.4,58.7) (1080.0,69.1) (1081.6,83.0) (1083.3,83.0) (1084.9,76.1) (1086.5,79.6) (1088.2,80.4) (1089.8,81.3) (1091.4,82.2) (1093.1,84.8) (1094.7,86.5) (1096.3,85.7) (1098.0,83.0) (1099.6,79.6) (1101.2,76.1) (1102.9,72.6) (1104.5,70.0) (1106.1,70.9) (1107.8,70.0) (1109.4,65.7) (1111.0,57.0) (1112.7,65.7) (1114.3,62.2) (1115.9,50.9) (1117.6,53.5) (1119.2,59.6) (1120.8,56.1) (1122.4,46.5) (1124.1,43.0) (1125.7,40.4) (1127.3,37.0) (1129.0,32.6) (1130.6,39.6) (1132.2,35.2) (1133.9,44.8) (1135.5,50.0) (1137.1,53.5) (1138.8,57.0) (1140.4,62.2) (1142.0,60.4) (1143.7,57.0) (1145.3,59.6) (1146.9,56.1) (1148.6,50.0) (1150.2,59.6) (1151.8,54.3) (1153.5,57.0) (1155.1,66.5) (1156.7,63.0) (1158.4,55.2) (1160.0,60.4) (1161.6,64.8) (1163.3,68.3) (1164.9,73.5) (1166.5,72.6) (1168.2,70.9) (1169.8,70.9) (1171.4,70.0) (1173.1,70.0) (1174.7,69.1) (1176.3,70.9) (1178.0,63.9) (1179.6,54.3) (1181.2,59.6) (1182.9,60.4) (1184.5,58.7) (1186.1,70.0) (1187.8,62.2) (1189.4,57.8) (1191.0,56.1) (1192.7,50.9) (1194.3,46.5) (1195.9,54.3) (1197.6,59.6) (1199.2,67.4) (1200.8,59.6) (1202.4,55.2) (1204.1,50.9) (1205.7,66.5) (1207.3,70.0) (1209.0,63.0) (1210.6,60.4) (1212.2,61.3) (1213.9,57.0) (1215.5,58.7) (1217.1,60.4) (1218.8,63.0) (1220.4,65.7) (1222.0,57.0) (1223.7,52.6) (1225.3,48.3) (1226.9,42.2) (1228.6,43.0) (1230.2,44.8) (1231.8,41.3) (1233.5,45.7) (1235.1,41.3) (1236.7,40.7)
};
\end{axis}

% ---------------- header texts ----------------
\node[anchor=base west, inner sep=0, font=\bfseries\fontsize{12.5}{14}\selectfont] at (16pt,-13.4pt) {\$SUPA200R};
\node[anchor=base west, inner sep=0, font=\fontsize{10.8}{12}\selectfont] at (93pt,-13.4pt) {S\&P 1500 Percent of Stocks Above 200 Day Moving Average};
\node[anchor=base west, inner sep=0, font=\fontsize{9.5}{10}\selectfont] at (393pt,-13.4pt) {INDX};
\node[anchor=base west, inner sep=0, font=\fontsize{10}{11}\selectfont] at (16pt,-25.6pt) {27-Aug-2026};
\node[anchor=base east, inner sep=0, font=\fontsize{9.3}{10}\selectfont, text=black!70] at (1248pt,-12.5pt) {©StockCharts.com};
\node[anchor=base east, inner sep=0, font=\fontsize{10.5}{11}\selectfont] at (1248pt,-25.5pt) {\textbf{Open} 70.07\hspace{5pt}\textbf{High} 70.13\hspace{5pt}\textbf{Low} 68.20\hspace{5pt}\textbf{Close} 69.20\hspace{5pt}\textbf{Chg} -1.40 (-1.98\%)\,{\dejavu\fontsize{7}{8}\selectfont\color{chgred}▼}};

% ---------------- panel legends ----------------
\draw[line width=2pt] (20pt,-35pt) -- (25.5pt,-35pt);
\node[anchor=west, inner sep=0, font=\monofont\fontsize{10}{12}\selectfont] at (31.7pt,-35pt) {\$SUPA200R (Daily) 69.20};
\draw[line width=2pt] (20pt,-236.5pt) -- (25.5pt,-236.5pt);
\node[anchor=west, inner sep=0, font=\monofont\fontsize{10}{12}\selectfont] at (31.7pt,-236.5pt) {\$SUPA150R 65.33};
\draw[line width=2pt] (20pt,-421.7pt) -- (25.5pt,-421.7pt);
\node[anchor=west, inner sep=0, font=\monofont\fontsize{10}{12}\selectfont] at (31.7pt,-421.7pt) {\$SUPA50R 50.33};
\draw[line width=2pt] (20pt,-608pt) -- (25.5pt,-608pt);
\node[anchor=west, inner sep=0, font=\monofont\fontsize{10}{12}\selectfont] at (31.7pt,-608pt) {\$SUPA20R 40.67};

% ---------------- annotation boxes ----------------
\newcommand{\annbox}[5]{%
  \fill[black!35] (#1pt+2.5pt,-#2pt-2.5pt) rectangle (#3pt+2.5pt,-#4pt-2.5pt);
  \draw[black!45, fill=white, line width=0.8pt] (#1pt,-#2pt) rectangle (#3pt,-#4pt);
  \node[anchor=west, inner sep=0, align=left, text=sblue, font=\bfseries\fontsize{11}{13}\selectfont] at (#1pt+3pt,{-(#2+#4)/2*1pt}) {S\&P 1500 Percentage of\\Stocks Above #5 Day MA};
}
\annbox{26}{53.3}{181}{84.3}{200}
\annbox{23}{252}{179}{283.5}{150}
\annbox{30.6}{434.3}{175.5}{466.7}{50}
\annbox{28.6}{620.7}{176.3}{652}{20}
\end{tikzpicture}
\end{document}
